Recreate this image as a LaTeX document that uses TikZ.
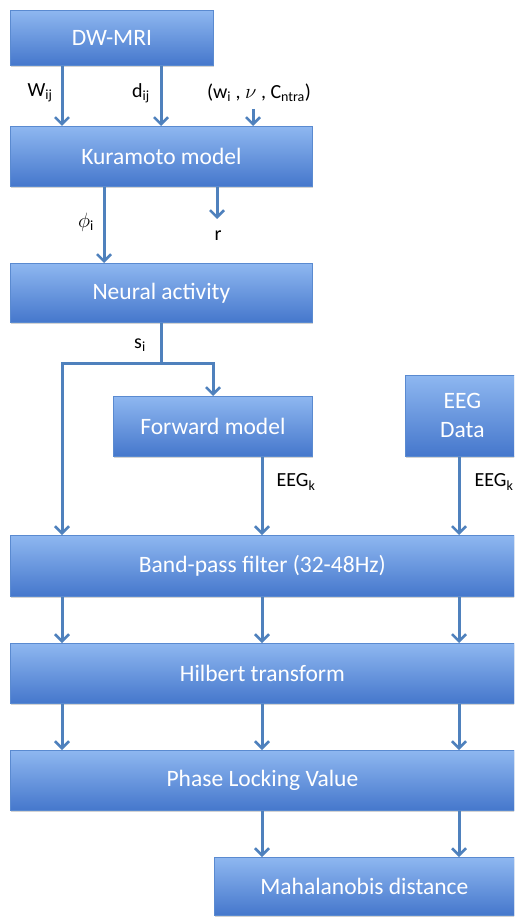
\documentclass[tikz,border=0pt]{standalone}
\usepackage{fontspec}
\setmainfont{Carlito}
\usetikzlibrary{arrows.meta,shadows}
\definecolor{arr}{HTML}{4F81BD}
\definecolor{boxtop}{HTML}{8EB7F0}
\definecolor{boxbot}{HTML}{4577CC}
\definecolor{boxedge}{HTML}{5A8AD0}
\tikzset{
  blk/.style={draw=boxedge, line width=0.8pt, top color=boxtop, bottom color=boxbot,
    text=white, font=\fontsize{23.5}{29}\selectfont, anchor=north west, inner sep=0pt,
    align=center, drop shadow={opacity=0.35, shadow xshift=1pt, shadow yshift=-1.5pt}},
  arw/.style={draw=arr, line width=3pt,
    -{Straight Barb[length=7pt,width=14pt,line width=2.5pt]}},
  wire/.style={draw=arr, line width=3pt},
  lbl/.style={font=\fontsize{20}{23}\selectfont, text=black, inner sep=0pt}
}
\begin{document}
\begin{tikzpicture}[x=1pt,y=-1pt]
\useasboundingbox (0,0) rectangle (514,917);
\clip (0,0) rectangle (514,917);
% boxes
\node[blk, minimum width=203pt, minimum height=55pt] (dw) at (10,10) {DW-MRI};
\node[blk, minimum width=302pt, minimum height=60pt] (kur) at (10,126) {Kuramoto model};
\node[blk, minimum width=302pt, minimum height=59pt] (neu) at (10,263) {Neural activity};
\node[blk, minimum width=199pt, minimum height=60pt] (fwd) at (113,396) {Forward model};
\node[blk, minimum width=114pt, minimum height=81pt] (eeg) at (405,375) {EEG\\Data};
\node[blk, minimum width=504pt, minimum height=61pt] (bp) at (10,535) {Band-pass filter (32-48Hz)};
\node[blk, minimum width=504pt, minimum height=60pt] (hil) at (10,643) {Hilbert transform};
\node[blk, minimum width=504pt, minimum height=60pt] (plv) at (10,750) {Phase Locking Value};
\node[blk, minimum width=300pt, minimum height=58pt] (mah) at (214,857) {Mahalanobis distance};
% columns
\coordinate (c1) at (62,0);
\coordinate (c2) at (161,0);
\coordinate (c3) at (253,0);
\coordinate (c4) at (104,0);
\coordinate (c5) at (217,0);
\coordinate (c6) at (213,0);
\coordinate (c7) at (262,0);
\coordinate (c8) at (459,0);
\coordinate (p3) at (253,109);
\coordinate (rend) at (217,219);
\coordinate (j) at (161,363);
% arrows
\draw[arw] (c1 |- dw.south) -- (c1 |- kur.north);
\draw[arw] (c2 |- dw.south) -- (c2 |- kur.north);
\draw[arw] (p3) -- (c3 |- kur.north);
\draw[arw] (c4 |- kur.south) -- (c4 |- neu.north);
\draw[arw] (c5 |- kur.south) -- (rend);
\draw[wire] (c2 |- neu.south) -- (j);
\draw[arw] (j) -| (c6 |- fwd.north);
\draw[arw] (j) -| (c1 |- bp.north);
\draw[arw] (c7 |- fwd.south) -- (c7 |- bp.north);
\draw[arw] (c8 |- eeg.south) -- (c8 |- bp.north);
\foreach \c in {c1,c7,c8} {
  \draw[arw] (\c |- bp.south) -- (\c |- hil.north);
  \draw[arw] (\c |- hil.south) -- (\c |- plv.north);
}
\draw[arw] (c7 |- plv.south) -- (c7 |- mah.north);
\draw[arw] (c8 |- plv.south) -- (c8 |- mah.north);
% labels
\node[lbl] (lw) at (40,93) {W\textsubscript{ij}};
\node[lbl] (ld) at (141,93) {d\textsubscript{ij}};
\node[lbl] (lp) at (259,93) {(w\textsubscript{i} , $\nu$ , C\textsubscript{ntra})};
\node[lbl] (lphi) at (86,222) {$\phi$\textsubscript{i}};
\node[lbl] (lr) at (218,236) {r};
\node[lbl] (ls) at (140,345) {s\textsubscript{i}};
\node[lbl] (le1) at (296,482) {EEG\textsubscript{k}};
\node[lbl] (le2) at (494,482) {EEG\textsubscript{k}};
\end{tikzpicture}
\end{document}
